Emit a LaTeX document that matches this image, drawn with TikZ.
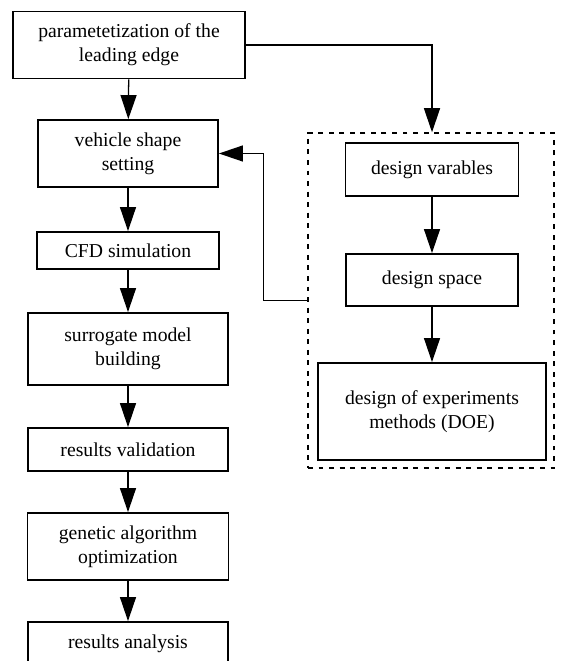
\documentclass[tikz,border=0pt]{standalone}
\usepackage{fontspec}
\setmainfont{Liberation Serif}
\usetikzlibrary{arrows.meta}

\begin{document}
\begin{tikzpicture}[x=0.025cm,y=-0.025cm,
        font=\fontsize{14}{17}\selectfont,
        block/.style={draw,line width=1.3pt,align=center,inner sep=0pt},
        group/.style={draw,line width=1pt,dash pattern=on 3.5pt off 4pt,inner sep=0pt},
        flow/.style={draw,line width=0.9pt,-{Triangle[length=0.6cm,width=0.4cm]}}]
            \useasboundingbox (0,0) rectangle (560,661);
            \node[block,minimum width=5.8cm,  minimum height=1.675cm](param)   at (129,45)    {parametetization of the\\leading edge};
            \node[block,minimum width=4.5cm,  minimum height=1.675cm](vehicle) at (128,153.5) {vehicle shape\\setting};
            \node[block,minimum width=4.55cm, minimum height=0.925cm](cfd)     at (128,250.5) {CFD simulation};
            \node[block,minimum width=5cm,    minimum height=1.8cm]  (surr)    at (128,349)   {surrogate model\\building};
            \node[block,minimum width=5cm,    minimum height=1.075cm](valid)   at (128,449.5) {results validation};
            \node[block,minimum width=5.025cm,minimum height=1.675cm](ga)      at (128,546.5) {genetic algorithm\\optimization};
            \node[block,minimum width=5cm,    minimum height=1.075cm](analysis) at (128,643.5) {results analysis};
            \node[group,minimum width=6.15cm, minimum height=8.375cm](dsgn)    at (431,300.5) {};
            \node[block,minimum width=4.325cm,minimum height=1.325cm](dvar)    at (432,169.5) {design varables};
            \node[block,minimum width=4.3cm,  minimum height=1.3cm]  (dspace)  at (432,280)   {design space};
            \node[block,minimum width=5.7cm,  minimum height=2.425cm](doe)     at (432,411.5) {design of experiments\\methods (DOE)};
            \path
                (param)   edge [flow] (vehicle)
                (vehicle) edge [flow] (cfd)
                (cfd)     edge [flow] (surr)
                (surr)    edge [flow] (valid)
                (valid)   edge [flow] (ga)
                (ga)      edge [flow] (analysis)
                (dvar)    edge [flow] (dspace)
                (dspace)  edge [flow] (doe)
                ;
            \draw[flow] (param.east) -| (dvar.north |- dsgn.north);
            \draw[flow] (dsgn.west) -- ++(-44,0) |- (vehicle.east);
        \end{tikzpicture}
\end{document}
